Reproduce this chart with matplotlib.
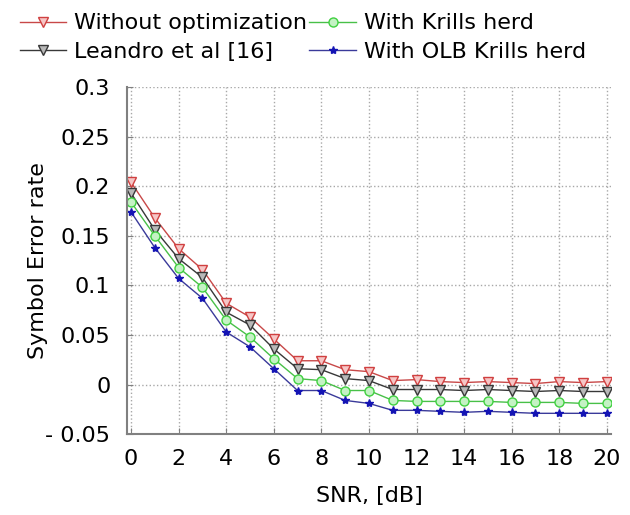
import matplotlib
matplotlib.use("Agg")
import matplotlib.pyplot as plt

snr = list(range(0, 21))
without_opt = [0.204, 0.168, 0.137, 0.116, 0.082, 0.068, 0.046, 0.024, 0.024, 0.015, 0.013,
               0.004, 0.005, 0.003, 0.002, 0.003, 0.002, 0.001, 0.003, 0.002, 0.003]
leandro = [0.193, 0.156, 0.127, 0.108, 0.073, 0.060, 0.036, 0.016, 0.015, 0.006, 0.004,
           -0.005, -0.005, -0.005, -0.006, -0.005, -0.006, -0.007, -0.006, -0.007, -0.007]
krills = [0.184, 0.150, 0.118, 0.098, 0.065, 0.048, 0.026, 0.006, 0.004, -0.006, -0.006,
          -0.016, -0.017, -0.017, -0.017, -0.017, -0.018, -0.018, -0.018, -0.019, -0.019]
olb_krills = [0.174, 0.138, 0.107, 0.087, 0.053, 0.038, 0.016, -0.006, -0.006, -0.016, -0.019,
              -0.026, -0.026, -0.027, -0.028, -0.027, -0.028, -0.029, -0.029, -0.029, -0.029]

labels = ["Without optimization", "Leandro et al [16]", "With Krills herd", "With OLB Krills herd"]
yticks = [-0.05, 0, 0.05, 0.1, 0.15, 0.2, 0.25, 0.3]
ytick_labels = ["- 0.05", "0", "0.05", "0.1", "0.15", "0.2", "0.25", "0.3"]
xticks = [0, 2, 4, 6, 8, 10, 12, 14, 16, 18, 20]

plt.rcParams['font.family'] = ['DejaVu Sans']

fig = plt.figure(figsize=(6.3, 5.15), dpi=100)
ax = fig.add_axes([0.2016, 0.157, 0.768, 0.674])

h1, = ax.plot(snr, without_opt, color='#c84848', lw=1.0, marker='v', ms=7,
              mfc='#f6c6c6', mec='#d04040', mew=1.0)
h2, = ax.plot(snr, leandro, color='#383838', lw=1.0, marker='v', ms=7,
              mfc='#b8b8b8', mec='#383838', mew=1.0)
h3, = ax.plot(snr, krills, color='#48c048', lw=1.0, marker='o', ms=6.5,
              mfc='#c4f2c4', mec='#40d040', mew=1.0)
h4, = ax.plot(snr, olb_krills, color='#3a3a9a', lw=1.0, marker='*', ms=6,
              mfc='#1414b4', mec='#1414b4', mew=1.0)

ax.set_xlim(-0.17, 20.17)
ax.set_ylim(-0.05, 0.3)
ax.set_xticks(xticks)
ax.set_yticks(yticks)
ax.set_yticklabels(ytick_labels)
ax.tick_params(direction='in', labelsize=16, color='#808080', length=4)
ax.tick_params(axis='x', pad=11)
ax.tick_params(axis='y', pad=12)
ax.grid(True, linestyle=':', color='#a8a8a8', lw=1.0)
for s in ['top', 'right']:
    ax.spines[s].set_visible(False)
for s in ['left', 'bottom']:
    ax.spines[s].set_color('#808080')
    ax.spines[s].set_linewidth(1.5)

ax.set_xlabel("SNR, [dB]", fontsize=16, labelpad=12)
ax.set_ylabel("Symbol Error rate", fontsize=16, labelpad=-2)

fig.legend([h1, h2, h3, h4], labels, ncol=2, loc='upper left',
           bbox_to_anchor=(0.01, 1.0), frameon=False, fontsize=16,
           handlelength=2.1, columnspacing=0.1, handletextpad=0.35, labelspacing=0.4,
           borderaxespad=0.2)

fig.savefig("out.png", dpi=100)
